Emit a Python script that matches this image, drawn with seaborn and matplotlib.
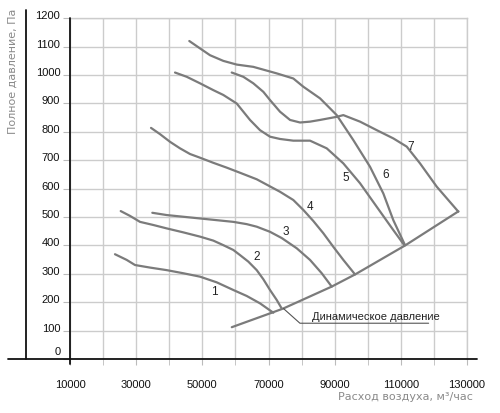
import matplotlib
matplotlib.use("Agg")
import matplotlib.pyplot as plt
import matplotlib.transforms as mtransforms
import seaborn as sns
from matplotlib.lines import Line2D
from matplotlib.ticker import FixedLocator, MultipleLocator

# curve data (air flow m3/h, total pressure Pa)
c1_x = [23600, 27140, 29650, 34180, 39230, 44250, 49300, 54350, 59370, 63420, 67440, 71460]
c1_y = [369, 349, 331, 322, 313, 302, 290, 270, 243, 222, 196, 163]
c2_x = [25330, 28140, 31160, 35180, 39230, 44250, 49300, 53320, 56340, 59370, 61390,
        63900, 66440, 68430, 70460, 72480, 73990]
c2_y = [521, 504, 483, 472, 460, 446, 431, 417, 401, 384, 366, 343, 313, 281, 243, 208, 178]
c3_x = [34880, 39230, 44250, 49300, 54350, 59370, 63420, 66440, 70460, 74000, 78530,
        82550, 86090, 89110]
c3_y = [515, 507, 501, 495, 489, 483, 475, 466, 448, 426, 390, 349, 302, 255]
c4_x = [34490, 37210, 40230, 43250, 46280, 49300, 53320, 57370, 61390, 66440, 73480,
        77500, 80530, 83550, 86570, 89600, 92620, 96150]
c4_y = [814, 792, 765, 742, 722, 709, 691, 674, 656, 633, 589, 560, 525, 486, 443, 395, 349, 298]
c5_x = [41740, 45280, 49300, 53320, 56340, 60390, 64410, 67430, 70460, 73480, 77500,
        82550, 87600, 92620, 97670, 102720, 107730, 111100]
c5_y = [1009, 994, 971, 947, 930, 900, 842, 806, 783, 775, 769, 769, 742, 689, 619, 536, 454, 400]
c6_x = [46060, 49300, 52320, 56340, 60390, 65410, 72480, 77500, 80530, 85580, 90620,
        95640, 100690, 104710, 107730, 111270]
c6_y = [1120, 1094, 1070, 1050, 1037, 1029, 1006, 988, 959, 918, 859, 771, 677, 583, 489, 401]
c7_x = [58880, 62390, 65410, 68440, 70460, 73480, 76510, 79530, 82550, 85580, 90620,
        92620, 97670, 102720, 107730, 111780, 115800, 120850, 127380]
c7_y = [1009, 994, 971, 941, 912, 871, 842, 833, 836, 842, 853, 859, 836, 806, 777,
        748, 689, 607, 519]

dyn_x = [58900, 71000, 74500, 89100, 96200, 111300, 127400]
dyn_y = [112, 163, 178, 255, 298, 400, 520]

curve_names = ["1", "2", "3", "4", "5", "6", "7"]
label_x = [53560, 66440, 75200, 82550, 93220, 105400, 113000]
label_y = [237, 360, 446, 536, 636, 648, 745]

x_ticks = [10000, 30000, 50000, 70000, 90000, 110000, 130000]
x_minor = [20000, 40000, 60000, 80000, 100000, 120000]

curves = [(c1_x, c1_y), (c2_x, c2_y), (c3_x, c3_y), (c4_x, c4_y),
          (c5_x, c5_y), (c6_x, c6_y), (c7_x, c7_y)]

sns.set_style("white")
plt.rcParams['font.family'] = ['Liberation Sans', 'DejaVu Sans']

W, H = 500, 413
fig = plt.figure(figsize=(5, 4.13), dpi=100)
ax = fig.add_axes([70 / W, 1 - 359 / H, (467 - 70) / W, (359 - 18.3) / H])

line_col = "#7b7b7b"
for (xs, ys) in curves:
    sns.lineplot(x=xs, y=ys, ax=ax, color=line_col, linewidth=1.6,
                 sort=False, estimator=None)
sns.lineplot(x=dyn_x, y=dyn_y, ax=ax, color=line_col, linewidth=1.6,
             sort=False, estimator=None)

for name, lx, ly in zip(curve_names, label_x, label_y):
    ax.text(lx, ly, name, fontsize=8.5, ha="center", va="center", color="#222222")

# leader for dynamic pressure
ax.plot([74500, 79500, 118400], [178, 126, 126], color="#555555",
        linewidth=0.8, clip_on=False)
ax.text(83000, 131, "Динамическое давление", fontsize=8, ha="left",
        va="bottom", color="#222222")

ax.set_xlim(10000, 130000)
ax.set_ylim(0, 1200)
ax.xaxis.set_major_locator(FixedLocator(x_ticks))
ax.xaxis.set_minor_locator(FixedLocator(x_minor))
ax.yaxis.set_major_locator(MultipleLocator(100))
ax.xaxis.set_major_formatter(plt.FuncFormatter(lambda v, p: "%d" % v))
ax.yaxis.set_major_formatter(plt.FuncFormatter(lambda v, p: "%d" % v))

ax.set_axisbelow(True)
ax.grid(which="both", color="#cccccc", linewidth=1.0)
ax.tick_params(axis="x", which="both", direction="out", length=4,
               color="#bbbbbb", labelsize=8, pad=11, labelcolor="#111111",
               bottom=True)
ax.tick_params(axis="y", which="major", direction="out", length=5,
               color="#bbbbbb", labelsize=8, pad=2, labelcolor="#111111",
               left=True)
for s in ["top", "right"]:
    ax.spines[s].set_color("#cccccc")
    ax.spines[s].set_linewidth(1.0)
ax.spines["bottom"].set_visible(False)
ax.spines["left"].set_visible(False)

# y labels sit a little above their grid lines, "0" more so
fig.canvas.draw()
for lbl in ax.get_yticklabels():
    up = 8 if lbl.get_text() == "0" else 3
    lbl.set_transform(lbl.get_transform() +
                      mtransforms.ScaledTranslation(0, up / 100, fig.dpi_scale_trans))

# axis frame lines (figure pixels)
def fig_line(x0, y0, x1, y1, lw=1.3):
    fig.add_artist(Line2D([x0 / W, x1 / W], [1 - y0 / H, 1 - y1 / H],
                          color="#111111", linewidth=lw,
                          transform=fig.transFigure))

fig_line(8, 359, 477, 359)
fig_line(70, 18.3, 70, 364)
fig_line(26, 9.5, 26, 359)

fig.text(473 / W, 1 - 397 / H, "Расход воздуха, м³/час", fontsize=8,
         color="#8a8a8a", ha="right", va="center", family=["DejaVu Sans"])
fig.text(13 / W, 1 - 9 / H, "Полное давление, Па", fontsize=8,
         color="#8a8a8a", ha="center", va="top", rotation=90,
         family=["DejaVu Sans"])

fig.savefig("out.png", dpi=100)
